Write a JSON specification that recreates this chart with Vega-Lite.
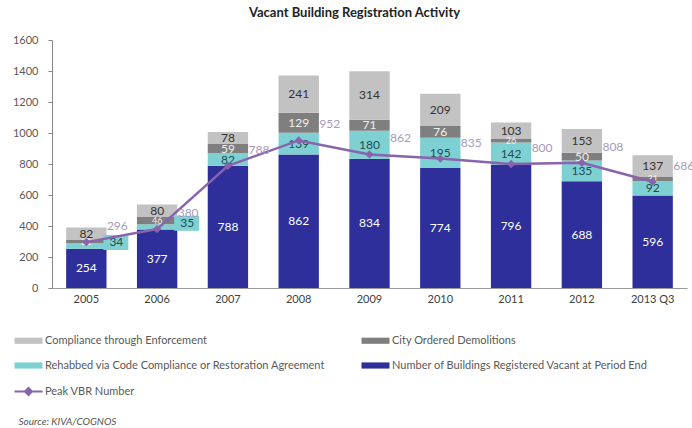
{
  "$schema": "https://vega.github.io/schema/vega-lite/v6.json",
  "width": 635,
  "height": 248,
  "autosize": {"type": "none"},
  "padding": {"left": 52, "top": 40, "right": 5, "bottom": 140},
  "title": {
    "text": "Vacant Building Registration Activity",
    "font": "Lato",
    "fontSize": 13,
    "fontWeight": "bold",
    "color": "#222222",
    "anchor": "middle",
    "dx": -15,
    "offset": 14
  },
  "config": {
    "view": {"stroke": null},
    "text": {"font": "Lato"}
  },
  "datasets": {
    "bars": [
      {"year": "2005", "series": "Number of Buildings Registered Vacant at Period End", "value": 254},
      {"year": "2005", "series": "Rehabbed via Code Compliance or Restoration Agreement", "value": 34},
      {"year": "2005", "series": "City Ordered Demolitions", "value": 21},
      {"year": "2005", "series": "Compliance through Enforcement", "value": 82},
      {"year": "2006", "series": "Number of Buildings Registered Vacant at Period End", "value": 377},
      {"year": "2006", "series": "Rehabbed via Code Compliance or Restoration Agreement", "value": 35},
      {"year": "2006", "series": "City Ordered Demolitions", "value": 46},
      {"year": "2006", "series": "Compliance through Enforcement", "value": 80},
      {"year": "2007", "series": "Number of Buildings Registered Vacant at Period End", "value": 788},
      {"year": "2007", "series": "Rehabbed via Code Compliance or Restoration Agreement", "value": 82},
      {"year": "2007", "series": "City Ordered Demolitions", "value": 59},
      {"year": "2007", "series": "Compliance through Enforcement", "value": 78},
      {"year": "2008", "series": "Number of Buildings Registered Vacant at Period End", "value": 862},
      {"year": "2008", "series": "Rehabbed via Code Compliance or Restoration Agreement", "value": 139},
      {"year": "2008", "series": "City Ordered Demolitions", "value": 129},
      {"year": "2008", "series": "Compliance through Enforcement", "value": 241},
      {"year": "2009", "series": "Number of Buildings Registered Vacant at Period End", "value": 834},
      {"year": "2009", "series": "Rehabbed via Code Compliance or Restoration Agreement", "value": 180},
      {"year": "2009", "series": "City Ordered Demolitions", "value": 71},
      {"year": "2009", "series": "Compliance through Enforcement", "value": 314},
      {"year": "2010", "series": "Number of Buildings Registered Vacant at Period End", "value": 774},
      {"year": "2010", "series": "Rehabbed via Code Compliance or Restoration Agreement", "value": 195},
      {"year": "2010", "series": "City Ordered Demolitions", "value": 76},
      {"year": "2010", "series": "Compliance through Enforcement", "value": 209},
      {"year": "2011", "series": "Number of Buildings Registered Vacant at Period End", "value": 796},
      {"year": "2011", "series": "Rehabbed via Code Compliance or Restoration Agreement", "value": 142},
      {"year": "2011", "series": "City Ordered Demolitions", "value": 26},
      {"year": "2011", "series": "Compliance through Enforcement", "value": 103},
      {"year": "2012", "series": "Number of Buildings Registered Vacant at Period End", "value": 688},
      {"year": "2012", "series": "Rehabbed via Code Compliance or Restoration Agreement", "value": 135},
      {"year": "2012", "series": "City Ordered Demolitions", "value": 50},
      {"year": "2012", "series": "Compliance through Enforcement", "value": 153},
      {"year": "2013 Q3", "series": "Number of Buildings Registered Vacant at Period End", "value": 596},
      {"year": "2013 Q3", "series": "Rehabbed via Code Compliance or Restoration Agreement", "value": 92},
      {"year": "2013 Q3", "series": "City Ordered Demolitions", "value": 31},
      {"year": "2013 Q3", "series": "Compliance through Enforcement", "value": 137}
    ],
    "peak": [
      {"year": "2005", "peak": 296},
      {"year": "2006", "peak": 380},
      {"year": "2007", "peak": 788},
      {"year": "2008", "peak": 952},
      {"year": "2009", "peak": 862},
      {"year": "2010", "peak": 835},
      {"year": "2011", "peak": 800},
      {"year": "2012", "peak": 808},
      {"year": "2013 Q3", "peak": 686}
    ]
  },
  "encoding": {
    "x": {
      "field": "year",
      "type": "nominal",
      "sort": null,
      "scale": {"paddingInner": 0.43, "paddingOuter": 0.2},
      "axis": {
        "title": "Source: KIVA/COGNOS",
        "titleFont": "Lato",
        "titleFontSize": 10,
        "titleFontStyle": "italic",
        "titleFontWeight": "normal",
        "titleColor": "#555555",
        "titleAlign": "left",
        "titleBaseline": "middle",
        "titleX": -34,
        "titleY": 133,
        "labelAngle": 0,
        "labelFont": "Lato",
        "labelFontSize": 11,
        "labelColor": "#404040",
        "labelPadding": 5,
        "ticks": false,
        "domainColor": "#9a9a9a",
        "grid": false
      }
    }
  },
  "layer": [
    {
      "data": {"name": "bars"},
      "transform": [
        {"calculate": "indexof(['Number of Buildings Registered Vacant at Period End','Rehabbed via Code Compliance or Restoration Agreement','City Ordered Demolitions','Compliance through Enforcement'], datum.series)", "as": "ord"},
        {"stack": "value", "groupby": ["year"], "sort": [{"field": "ord", "order": "ascending"}], "as": ["v0", "v1"]},
        {"calculate": "(datum.v0 + datum.v1) / 2", "as": "mid"}
      ],
      "layer": [
        {
          "mark": {"type": "bar"},
          "encoding": {
            "y": {
              "field": "v0",
              "type": "quantitative",
              "scale": {"domain": [0, 1600]},
              "axis": {
                "title": null,
                "grid": false,
                "tickCount": 8,
                "format": "d",
                "labelFont": "Lato",
                "labelFontSize": 11,
                "labelColor": "#595959",
                "domainColor": "#868686",
                "tickColor": "#868686",
                "tickSize": 4,
                "labelPadding": 10
              }
            },
            "y2": {"field": "v1"},
            "color": {
              "field": "series",
              "type": "nominal",
              "scale": {
                "domain": ["Compliance through Enforcement", "City Ordered Demolitions", "Rehabbed via Code Compliance or Restoration Agreement", "Number of Buildings Registered Vacant at Period End", "Peak VBR Number"],
                "range": ["#c2c2c2", "#7f7f7f", "#7fd0d3", "#2e2f9a", "#8a63ad"]
              },
              "legend": {
                "orient": "none",
                "legendX": -29,
                "legendY": 295,
                "columns": 2,
                "direction": "horizontal",
                "title": null,
                "symbolSize": 784,
                "labelFont": "Lato",
                "labelFontSize": 11,
                "labelColor": "#595959",
                "labelOffset": 11,
                "columnPadding": 35,
                "rowPadding": 13,
                "labelLimit": 400,
                "encode": {
                  "symbols": {
                    "update": {
                      "shape": {"signal": "datum.value === 'Peak VBR Number' ? 'M-1,0H1M-0.25,0L0,-0.25L0.25,0L0,0.25Z' : 'M-1,-0.22H1V0.22H-1Z'"},
                      "stroke": {"signal": "datum.value === 'Peak VBR Number' ? '#8a63ad' : 'transparent'"},
                      "strokeWidth": {"signal": "datum.value === 'Peak VBR Number' ? 2 : 0"}
                    }
                  }
                }
              }
            },
            "order": {"field": "ord"}
          }
        },
        {
          "transform": [{"filter": "datum.series === 'Rehabbed via Code Compliance or Restoration Agreement' && datum.value < 50"}],
          "mark": {"type": "point", "filled": true, "opacity": 1, "color": "#7fd0d3", "size": 576, "shape": "M1.42,-0.92H3.5V0.33H1.42Z"},
          "encoding": {
            "y": {"field": "mid", "type": "quantitative", "title": null}
          }
        },
        {
          "transform": [{"filter": "!(datum.series === 'Rehabbed via Code Compliance or Restoration Agreement' && datum.value < 50)"}],
          "mark": {"type": "text", "baseline": "middle", "align": "center"},
          "encoding": {
            "y": {"field": "mid", "type": "quantitative", "title": null},
            "text": {"field": "value", "type": "quantitative"},
            "size": {
              "condition": {"test": "datum.series === 'City Ordered Demolitions' && datum.value < 50", "value": 9},
              "value": 12
            },
            "color": {
              "condition": [
                {"test": "datum.series === 'Number of Buildings Registered Vacant at Period End'", "value": "#ffffff"},
                {"test": "datum.series === 'Rehabbed via Code Compliance or Restoration Agreement'", "value": "#1d4e50"},
                {"test": "datum.series === 'City Ordered Demolitions'", "value": "#f0f0f0"}
              ],
              "value": "#333333"
            }
          }
        },
        {
          "transform": [{"filter": "datum.series === 'Rehabbed via Code Compliance or Restoration Agreement' && datum.value < 50"}],
          "mark": {"type": "text", "fontSize": 12, "baseline": "middle", "align": "center", "dx": 30, "dy": -4, "color": "#1d4e50"},
          "encoding": {
            "y": {"field": "mid", "type": "quantitative", "title": null},
            "text": {"field": "value", "type": "quantitative"}
          }
        }
      ]
    },
    {
      "data": {"name": "peak"},
      "layer": [
        {
          "mark": {"type": "line", "strokeWidth": 2.5, "point": {"shape": "diamond", "size": 70, "filled": true}},
          "encoding": {
            "y": {"field": "peak", "type": "quantitative", "title": null},
            "color": {"datum": "Peak VBR Number"}
          }
        },
        {
          "mark": {"type": "text", "fontSize": 12, "baseline": "middle", "align": "center", "dx": 31, "dy": -16, "color": "#a59bbb"},
          "encoding": {
            "y": {"field": "peak", "type": "quantitative", "title": null},
            "text": {"field": "peak", "type": "quantitative"}
          }
        }
      ]
    }
  ]
}
